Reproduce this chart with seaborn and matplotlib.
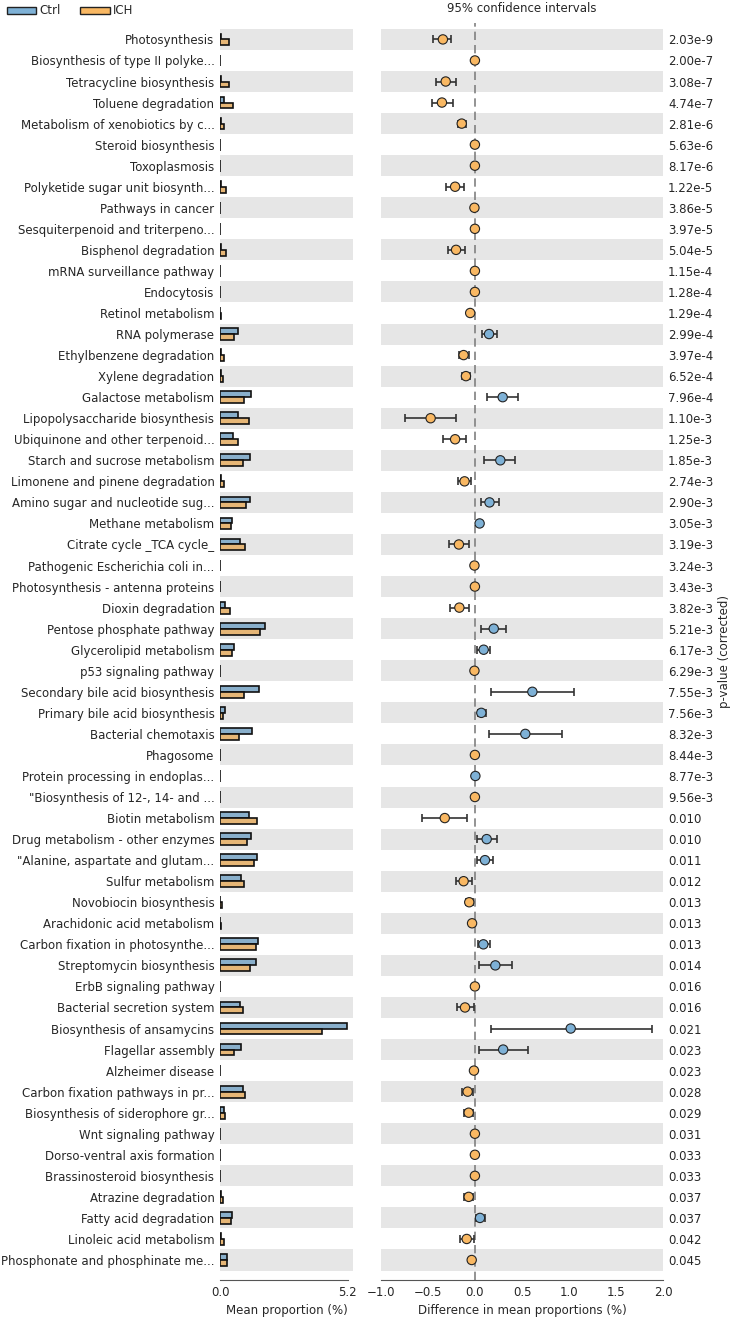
import numpy as np
import pandas as pd
import matplotlib
matplotlib.use('Agg')
import matplotlib.pyplot as plt
from matplotlib.patches import Patch
import seaborn as sns

# 通路名称
names = ['Photosynthesis', 'Biosynthesis of type II polyke...', 'Tetracycline biosynthesis',
         'Toluene degradation', 'Metabolism of xenobiotics by c...', 'Steroid biosynthesis',
         'Toxoplasmosis', 'Polyketide sugar unit biosynth...', 'Pathways in cancer',
         'Sesquiterpenoid and triterpeno...', 'Bisphenol degradation', 'mRNA surveillance pathway',
         'Endocytosis', 'Retinol metabolism', 'RNA polymerase', 'Ethylbenzene degradation',
         'Xylene degradation', 'Galactose metabolism', 'Lipopolysaccharide biosynthesis',
         'Ubiquinone and other terpenoid...', 'Starch and sucrose metabolism',
         'Limonene and pinene degradation', 'Amino sugar and nucleotide sug...', 'Methane metabolism',
         'Citrate cycle _TCA cycle_', 'Pathogenic Escherichia coli in...',
         'Photosynthesis - antenna proteins', 'Dioxin degradation', 'Pentose phosphate pathway',
         'Glycerolipid metabolism', 'p53 signaling pathway', 'Secondary bile acid biosynthesis',
         'Primary bile acid biosynthesis', 'Bacterial chemotaxis', 'Phagosome',
         'Protein processing in endoplas...', '"Biosynthesis of 12-, 14- and ...',
         'Biotin metabolism', 'Drug metabolism - other enzymes', '"Alanine, aspartate and glutam...',
         'Sulfur metabolism', 'Novobiocin biosynthesis', 'Arachidonic acid metabolism',
         'Carbon fixation in photosynthe...', 'Streptomycin biosynthesis', 'ErbB signaling pathway',
         'Bacterial secretion system', 'Biosynthesis of ansamycins', 'Flagellar assembly',
         'Alzheimer disease', 'Carbon fixation pathways in pr...', 'Biosynthesis of siderophore gr...',
         'Wnt signaling pathway', 'Dorso-ventral axis formation', 'Brassinosteroid biosynthesis',
         'Atrazine degradation', 'Fatty acid degradation', 'Linoleic acid metabolism',
         'Phosphonate and phosphinate me...']

# 两组平均丰度 (%)
ctrl = [0.03, 0, 0.04, 0.18, 0.03, 0, 0, 0.05, 0, 0,
        0.05, 0, 0, 0.01, 0.72, 0.05, 0.03, 1.25, 0.73, 0.51,
        1.21, 0.03, 1.22, 0.49, 0.81, 0, 0, 0.22, 1.83, 0.58,
        0, 1.57, 0.19, 1.31, 0, 0.01, 0, 1.18, 1.25, 1.50,
        0.85, 0.02, 0.01, 1.54, 1.46, 0, 0.83, 5.19, 0.87, 0,
        0.95, 0.15, 0, 0, 0, 0.04, 0.49, 0.06, 0.28]
ich = [0.38, 0, 0.35, 0.53, 0.15, 0, 0, 0.26, 0, 0,
       0.25, 0, 0, 0.06, 0.57, 0.17, 0.13, 0.96, 1.19, 0.75,
       0.95, 0.15, 1.06, 0.45, 1.00, 0, 0, 0.39, 1.63, 0.47,
       0, 0.96, 0.12, 0.79, 0, 0.01, 0, 1.50, 1.12, 1.40,
       0.99, 0.08, 0.04, 1.45, 1.23, 0, 0.92, 4.17, 0.57, 0,
       1.02, 0.22, 0, 0, 0, 0.12, 0.43, 0.15, 0.30]

# 均值差及95%置信区间
diff = [-0.34, 0, -0.31, -0.35, -0.14, 0, 0, -0.21, -0.005, 0,
        -0.20, 0, 0, -0.05, 0.15, -0.12, -0.095, 0.295, -0.47, -0.21,
        0.27, -0.11, 0.155, 0.05, -0.17, -0.005, 0, -0.165, 0.20, 0.093,
        -0.005, 0.61, 0.068, 0.535, 0, 0.005, 0, -0.32, 0.125, 0.107,
        -0.12, -0.06, -0.03, 0.09, 0.217, 0, -0.105, 1.017, 0.30, -0.01,
        -0.077, -0.066, 0, 0, 0, -0.066, 0.054, -0.087, -0.034]
ci_low = [-0.44, 0, -0.41, -0.46, -0.18, 0, 0, -0.31, -0.005, 0,
          -0.29, 0, 0, -0.06, 0.075, -0.17, -0.14, 0.13, -0.74, -0.34,
          0.10, -0.18, 0.06, 0.03, -0.275, -0.005, 0, -0.265, 0.065, 0.025,
          -0.005, 0.17, 0.03, 0.146, 0, 0.002, 0, -0.56, 0.025, 0.02,
          -0.20, -0.095, -0.035, 0.03, 0.045, 0, -0.19, 0.167, 0.045, -0.01,
          -0.137, -0.12, 0, 0, 0, -0.12, 0.012, -0.16, -0.05]
ci_high = [-0.25, 0, -0.20, -0.23, -0.095, 0, 0, -0.12, -0.005, 0,
           -0.11, 0, 0, -0.04, 0.23, -0.06, -0.05, 0.46, -0.20, -0.095,
           0.43, -0.04, 0.255, 0.07, -0.06, -0.005, 0, -0.06, 0.335, 0.155,
           -0.005, 1.05, 0.12, 0.925, 0, 0.008, 0, -0.085, 0.23, 0.19,
           -0.03, -0.02, -0.025, 0.16, 0.39, 0, -0.01, 1.88, 0.565, -0.01,
           -0.02, -0.02, 0, 0, 0, -0.02, 0.105, -0.01, -0.02]

pvals = ['2.03e-9', '2.00e-7', '3.08e-7', '4.74e-7', '2.81e-6', '5.63e-6', '8.17e-6', '1.22e-5',
         '3.86e-5', '3.97e-5', '5.04e-5', '1.15e-4', '1.28e-4', '1.29e-4', '2.99e-4', '3.97e-4',
         '6.52e-4', '7.96e-4', '1.10e-3', '1.25e-3', '1.85e-3', '2.74e-3', '2.90e-3', '3.05e-3',
         '3.19e-3', '3.24e-3', '3.43e-3', '3.82e-3', '5.21e-3', '6.17e-3', '6.29e-3', '7.55e-3',
         '7.56e-3', '8.32e-3', '8.44e-3', '8.77e-3', '9.56e-3', '0.010', '0.010', '0.011',
         '0.012', '0.013', '0.013', '0.013', '0.014', '0.016', '0.016', '0.021', '0.023',
         '0.023', '0.028', '0.029', '0.031', '0.033', '0.033', '0.037', '0.037', '0.042', '0.045']

groups = ['Ctrl', 'ICH']
colors = {'Ctrl': '#7EB1D6', 'ICH': '#F9B863'}

sns.set_style('white')
plt.rcParams['font.family'] = ['DejaVu Sans']
fs = 8.5

n = len(names)
ypos = np.arange(n)
ylim = (n - 1 + 0.95, -0.78)

df = pd.DataFrame({'pathway': names * 2,
                   'value': ctrl + ich,
                   'group': ['Ctrl'] * n + ['ICH'] * n})
dd = pd.DataFrame({'y': ypos, 'diff': diff, 'lo': ci_low, 'hi': ci_high})
dd['group'] = np.where(dd['diff'] > 0, 'Ctrl', 'ICH')

fig = plt.figure(figsize=(7.35, 13.21), dpi=100)
ax1 = fig.add_axes([220 / 735, 1 - 1280 / 1321, 133 / 735, 1257 / 1321])
ax2 = fig.add_axes([380.7 / 735, 1 - 1280 / 1321, 282.6 / 735, 1257 / 1321])

# 背景条纹
for ax in (ax1, ax2):
    for i in range(0, n, 2):
        ax.axhspan(i - 0.5, i + 0.5, color='#e6e6e6', zorder=0, lw=0)

# 左侧：平均丰度条形图
sns.barplot(data=df, x='value', y='pathway', hue='group', order=names, hue_order=groups,
            palette=colors, orient='h', width=0.56, edgecolor='#111111', linewidth=1.2,
            errorbar=None, legend=False, ax=ax1, zorder=2)
ax1.set_xlim(0, 5.42)
ax1.set_ylim(*ylim)
ax1.set_xticks([0, 5.2])
ax1.set_xticklabels(['0.0', '5.2'], fontsize=fs)
ax1.set_xlabel('Mean proportion (%)', fontsize=fs, labelpad=4)
ax1.set_ylabel('')
ax1.tick_params(axis='y', length=0, pad=4, labelsize=fs)
ax1.tick_params(axis='x', direction='in', length=3, pad=4, color='#555555')
for s in ['left', 'right', 'top']:
    ax1.spines[s].set_visible(False)
ax1.spines['bottom'].set_bounds(0, 5.2)
ax1.spines['bottom'].set_color('#555555')

# 右侧：均值差及置信区间
ax2.axvline(0, color='#808080', ls=(0, (5, 3)), lw=1.2, zorder=1)
ax2.errorbar(dd['diff'], dd['y'], xerr=[dd['diff'] - dd['lo'], dd['hi'] - dd['diff']],
             fmt='none', ecolor='#333333', elinewidth=1.2, capsize=3, capthick=1.2, zorder=3)
sns.scatterplot(data=dd, x='diff', y='y', hue='group', palette=colors, s=45,
                edgecolor='#222222', linewidth=0.8, legend=False, ax=ax2, zorder=4)
ax2.set_xlim(-1, 2)
ax2.set_ylim(*ylim)
ax2.set_xticks([-1, -0.5, 0, 0.5, 1, 1.5, 2])
ax2.set_xticklabels(['\u22121.0', '\u22120.5', '0.0', '0.5', '1.0', '1.5', '2.0'], fontsize=fs)
ax2.set_xlabel('Difference in mean proportions (%)', fontsize=fs, labelpad=4)
ax2.set_ylabel('')
ax2.set_yticks([])
ax2.tick_params(axis='x', direction='in', length=3, pad=4, color='#555555')
for s in ['left', 'right', 'top']:
    ax2.spines[s].set_visible(False)
ax2.spines['bottom'].set_color('#555555')

# p 值
ax3 = ax2.twinx()
ax3.set_ylim(*ylim)
ax3.set_yticks(ypos)
ax3.set_yticklabels(pvals, fontsize=fs)
ax3.tick_params(axis='y', length=0, pad=3.5)
ax3.set_ylabel('p-value (corrected)', fontsize=fs, labelpad=3)
for s in ax3.spines.values():
    s.set_visible(False)

fig.text(521.7 / 735, 1 - 8 / 1321, '95% confidence intervals', ha='center', va='center', fontsize=fs)

handles = [Patch(facecolor=colors[g], edgecolor='#222222', lw=1, label=g) for g in groups]
fig.legend(handles=handles, loc='upper left', bbox_to_anchor=(-0.002, 1.003), ncol=2, frameon=False,
           fontsize=fs, handlelength=2.5, handleheight=0.55, handletextpad=0.3,
           columnspacing=1.6, borderaxespad=0.3)

fig.savefig('out.png', dpi=100)
